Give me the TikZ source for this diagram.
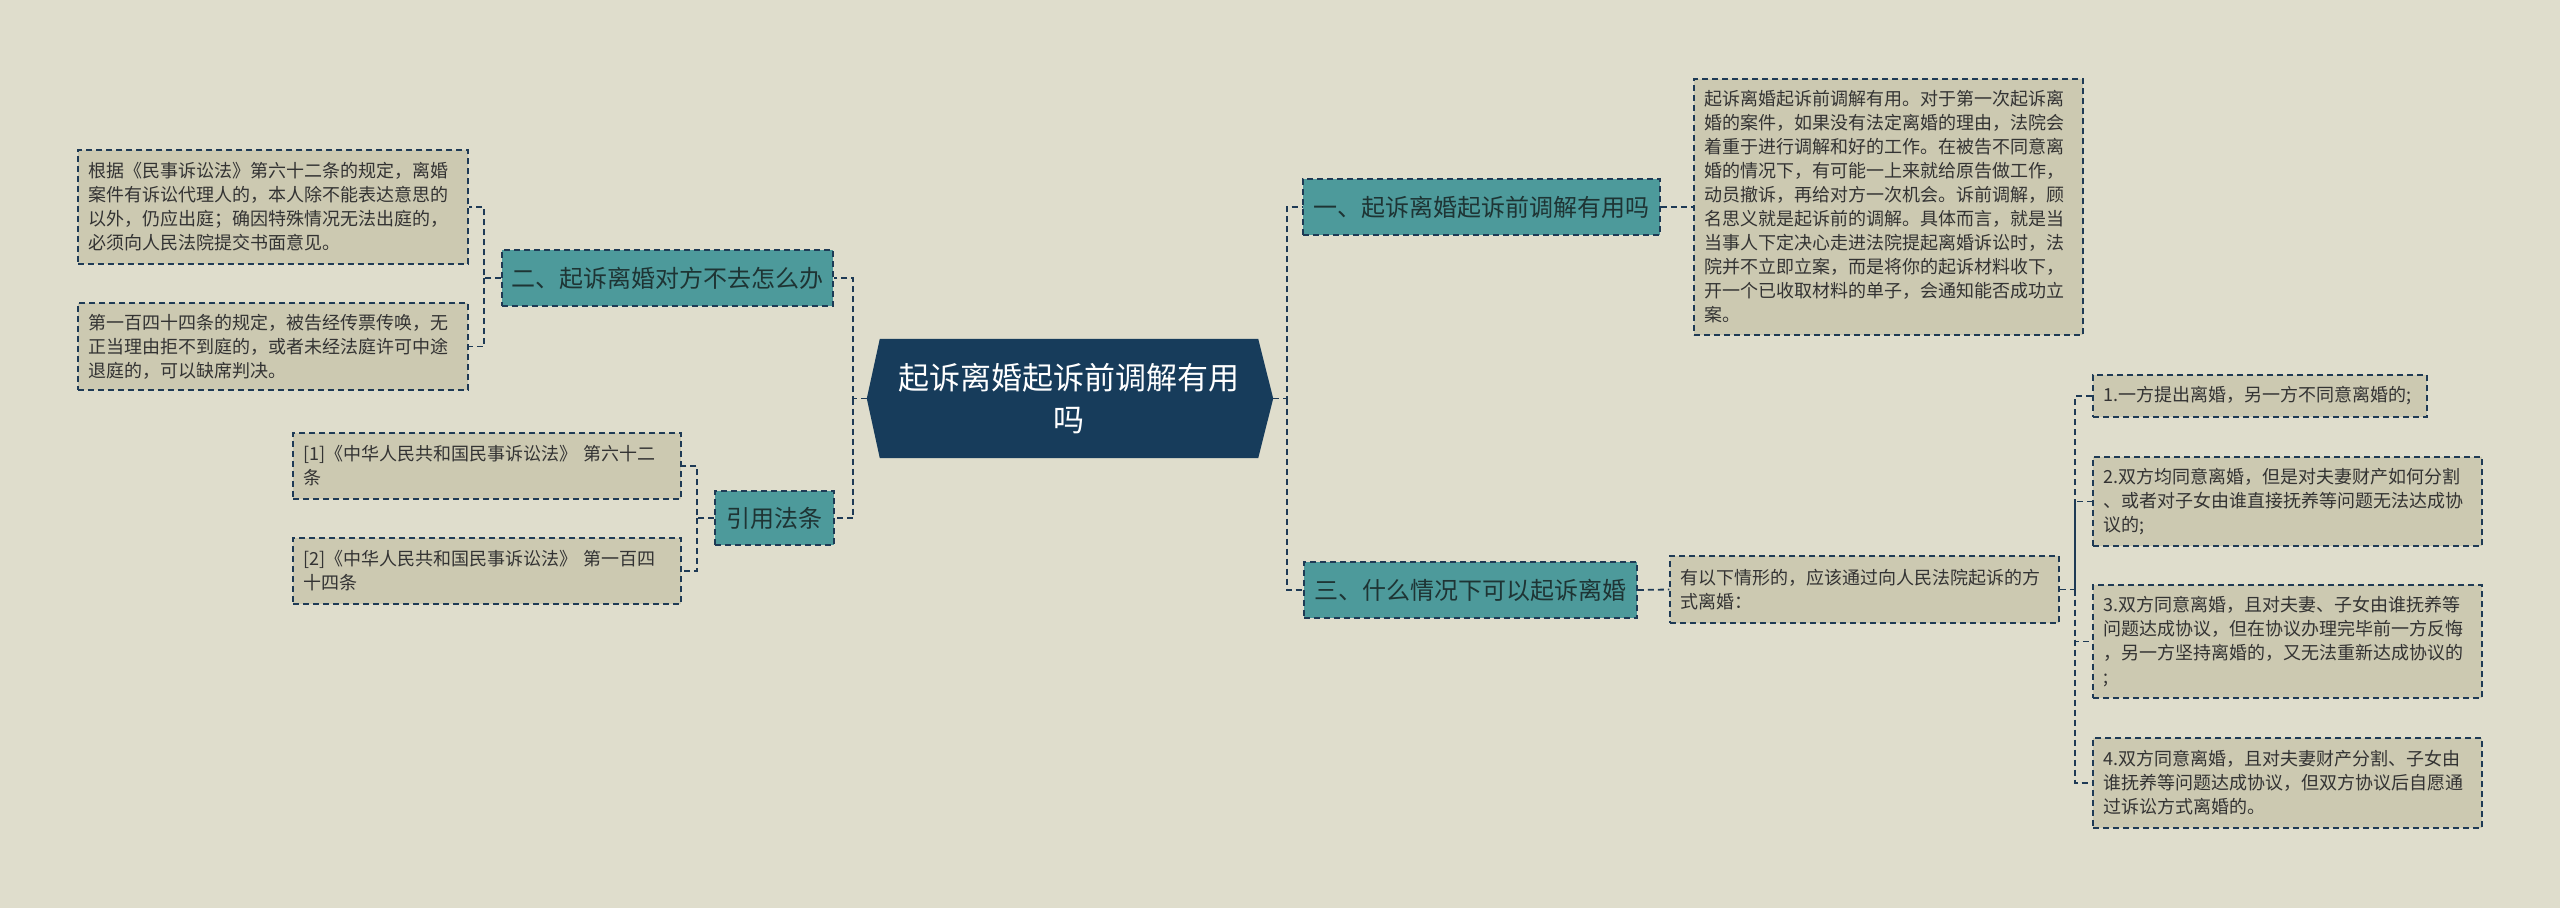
\documentclass[tikz,border=0pt]{standalone}
\usepackage{fontspec}
\setmainfont{Noto Sans CJK SC}
\definecolor{bgC}{HTML}{DFDDCC}
\definecolor{leafC}{HTML}{CCC9B1}
\definecolor{tealC}{HTML}{4D9A9B}
\definecolor{navyC}{HTML}{173C5B}
\definecolor{lineC}{HTML}{1E3A55}
\definecolor{leafT}{HTML}{333333}
\definecolor{brT}{HTML}{1E3434}
\pgfdeclarelayer{background}
\pgfsetlayers{background,main}
\begin{document}
\begin{tikzpicture}[x=1pt,y=-1pt,
  conn/.style={draw=lineC, line width=1.8pt, dash pattern=on 6pt off 4pt},
  leaf/.style={draw=lineC, line width=1.5pt, dash pattern=on 6pt off 4pt, fill=leafC, text=leafT, inner sep=0pt, align=left, font=\fontsize{18}{24}\selectfont},
  branch/.style={draw=lineC, line width=1.5pt, dash pattern=on 6pt off 4pt, fill=tealC, text=brT, inner sep=0pt, minimum height=56pt, font=\fontsize{24}{30}\selectfont},
]
\useasboundingbox (0,0) rectangle (2560,908);
% root
\node[inner sep=0pt, minimum width=378pt, minimum height=119pt, text=white, align=center, font=\fontsize{31}{42}\selectfont] (root) at (1069,398.5) {起诉离婚起诉前调解有用\\吗};
\begin{pgfonlayer}{background}
\fill[bgC] (0,0) rectangle (2560,908);
\fill[navyC] ([xshift=-13pt]root.west) -- (root.north west) -- (root.north east) -- ([xshift=15pt]root.east) -- (root.south east) -- (root.south west) -- cycle;
\end{pgfonlayer}
\coordinate (rootL) at ([xshift=-13pt]root.west);
\coordinate (rootR) at ([xshift=15pt]root.east);

% branches
\node[branch, minimum width=331pt] (b2) at (667.5,278) {二、起诉离婚对方不去怎么办};
\node[branch, minimum width=119pt, minimum height=54pt] (b4) at (774.5,518) {引用法条};
\node[branch, minimum width=357pt] (b1) at (1481.5,207) {一、起诉离婚起诉前调解有用吗};
\node[branch, minimum width=333pt] (b3) at (1470.5,590) {三、什么情况下可以起诉离婚};

% left leaves
\node[leaf, minimum width=390pt, minimum height=114pt, text width=370pt] (L1) at (273,207) {根据《民事诉讼法》第六十二条的规定，离婚\\案件有诉讼代理人的，本人除不能表达意思的\\以外，仍应出庭；确因特殊情况无法出庭的，\\必须向人民法院提交书面意见。};
\node[leaf, minimum width=390pt, minimum height=87pt, text width=370pt] (L2) at (273,346.5) {第一百四十四条的规定，被告经传票传唤，无\\正当理由拒不到庭的，或者未经法庭许可中途\\退庭的，可以缺席判决。};
\node[leaf, minimum width=388pt, minimum height=66pt, text width=368pt] (R1) at (487,466) {[1]《中华人民共和国民事诉讼法》 第六十二\\条};
\node[leaf, minimum width=388pt, minimum height=66pt, text width=368pt] (R2) at (487,571) {[2]《中华人民共和国民事诉讼法》 第一百四\\十四条};

% right leaves
\node[leaf, minimum width=389pt, minimum height=256pt, text width=369pt] (T) at (1888.5,207) {起诉离婚起诉前调解有用。对于第一次起诉离\\婚的案件，如果没有法定离婚的理由，法院会\\着重于进行调解和好的工作。在被告不同意离\\婚的情况下，有可能一上来就给原告做工作，\\动员撤诉，再给对方一次机会。诉前调解，顾\\名思义就是起诉前的调解。具体而言，就是当\\当事人下定决心走进法院提起离婚诉讼时，法\\院并不立即立案，而是将你的起诉材料收下，\\开一个已收取材料的单子，会通知能否成功立\\案。};
\node[leaf, minimum width=389pt, minimum height=67pt, text width=369pt] (M) at (1864.5,589.5) {有以下情形的，应该通过向人民法院起诉的方\\式离婚：};
\node[leaf, minimum width=334pt, minimum height=42pt, text width=314pt] (I1) at (2260,396) {1.一方提出离婚，另一方不同意离婚的;};
\node[leaf, minimum width=389pt, minimum height=89pt, text width=369pt] (I2) at (2287.5,501.5) {2.双方均同意离婚，但是对夫妻财产如何分割\\、或者对子女由谁直接抚养等问题无法达成协\\议的;};
\node[leaf, minimum width=389pt, minimum height=113pt, text width=369pt] (I3) at (2287.5,641.5) {3.双方同意离婚，且对夫妻、子女由谁抚养等\\问题达成协议，但在协议办理完毕前一方反悔\\，另一方坚持离婚的，又无法重新达成协议的\\;};
\node[leaf, minimum width=389pt, minimum height=90pt, text width=369pt] (I4) at (2287.5,783) {4.双方同意离婚，且对夫妻财产分割、子女由\\谁抚养等问题达成协议，但双方协议后自愿通\\过诉讼方式离婚的。};

% junctions
\coordinate (jl) at (853,398.5);
\coordinate (jr) at (1287,398.5);
\coordinate (j2) at (484,278);
\coordinate (j4) at (697,518);
\coordinate (jm) at (2075,589.5);

% connectors
\draw[conn] (rootL) -- (jl) |- (b2.east);
\draw[conn] (jl) |- (b4.east);
\draw[conn] (rootR) -- (jr) |- (b1.west);
\draw[conn] (jr) |- (b3.west);
\draw[conn] (b2.west) -- (j2) |- (L1.east);
\draw[conn] (j2) |- (L2.east);
\draw[conn] (b4.west) -- (j4) |- (R1.east);
\draw[conn] (j4) |- (R2.east);
\draw[conn] (b1.east) -- (T.west);
\draw[conn] (b3.east) -- (M.west);
\draw[conn] (M.east) -- (jm) |- (I1.west);
\draw[conn] (jm) |- (I2.west);
\draw[conn] (jm) |- (I3.west);
\draw[conn] (jm) |- (I4.west);
\end{tikzpicture}
\end{document}
